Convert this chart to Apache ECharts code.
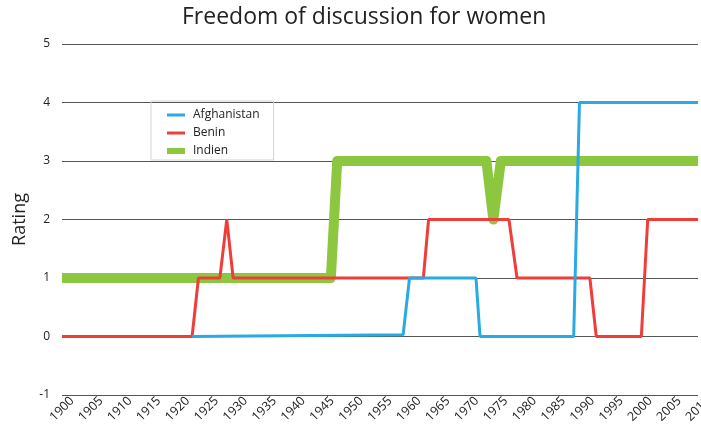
<!DOCTYPE html>
<html>
<head>
<meta charset="utf-8">
<script src="https://cdn.jsdelivr.net/npm/echarts@6/dist/echarts.min.js"></script>
<style>html,body{margin:0;padding:0;background:#fff}#c{width:701px;height:425px}</style>
</head>
<body>
<div id="c"></div>
<script>
const titleText = 'Freedom of discussion for women';
const yName = 'Rating';
const seriesNames = ['Afghanistan', 'Benin', 'Indien'];
const afghanistan = [[1922.5,0],[1959,0.03],[1960.1,1],[1971.6,1],[1972.3,0],[1988.5,0],[1989.5,4],[2010,4]];
const benin = [[1900,0],[1922.5,0],[1923.6,1],[1927.3,1],[1928.5,2],[1929.6,1],[1962.5,1],[1963.4,2],[1977.3,2],[1978.7,1],[1991.3,1],[1992.4,0],[2000.2,0],[2001.3,2],[2010,2]];
const indien = [[1900,1],[1946.5,1],[1947.6,3],[1973.4,3],[1974.6,2],[1975.9,3],[2010,3]];

const FONT = 'Open Sans';
const thinIcon = 'path://M0,0L0,0M0,14L0,14M0,5.5L18,5.5L18,8.5L0,8.5Z';
const thickIcon = 'path://M0,0L0,0M0,14L0,14M0,4L18,4L18,10L0,10Z';
const chart = echarts.init(document.getElementById('c'));
chart.setOption({
  animation: false,
  title: {
    text: titleText,
    left: 177, top: 1,
    textStyle: {fontFamily: FONT, fontSize: 23, fontWeight: 'normal', color: '#222'}
  },
  legend: {
    orient: 'vertical',
    left: 151, top: 101,
    padding: [7, 14, 2, 16],
    borderColor: '#d4d4d4', borderWidth: 1,
    itemWidth: 18, itemHeight: 14, itemGap: 4,
    textStyle: {fontFamily: FONT, fontSize: 12, color: '#222', padding: [0, 0, 0, 3]},
    data: [
      {name: seriesNames[0], icon: thinIcon},
      {name: seriesNames[1], icon: thinIcon},
      {name: seriesNames[2], icon: thickIcon}
    ]
  },
  grid: {left: 62, right: 3, top: 44, bottom: 30, outerBoundsMode: 'none', containLabel: false},
  xAxis: {
    type: 'value', min: 1900, max: 2010, interval: 5,
    axisLine: {show: false, onZero: false}, axisTick: {show: false}, splitLine: {show: false},
    axisLabel: {rotate: 45, align: 'center', verticalAlign: 'middle', margin: 14,
      fontFamily: FONT, fontSize: 12.5, color: '#222', formatter: v => String(v)}
  },
  yAxis: {
    type: 'value', min: -1, max: 5, interval: 1,
    name: yName, nameLocation: 'middle', nameGap: 33,
    nameTextStyle: {fontFamily: FONT, fontSize: 18, color: '#222'},
    axisLine: {show: false}, axisTick: {show: false},
    splitLine: {lineStyle: {color: '#555', width: 1}},
    axisLabel: {margin: 12, fontFamily: FONT, fontSize: 12, color: '#222'}
  },
  series: [
    {name: seriesNames[0], type: 'line', data: afghanistan, symbol: 'none', z: 4,
      lineStyle: {color: '#29abe2', width: 3}, itemStyle: {color: '#29abe2'}},
    {name: seriesNames[1], type: 'line', data: benin, symbol: 'none', z: 3,
      lineStyle: {color: '#ef3e3a', width: 3}, itemStyle: {color: '#ef3e3a'}},
    {name: seriesNames[2], type: 'line', data: indien, symbol: 'none', z: 2,
      lineStyle: {color: '#8dc63f', width: 10, join: 'round', cap: 'butt'}, itemStyle: {color: '#8dc63f'}}
  ]
});
</script>
</body>
</html>
